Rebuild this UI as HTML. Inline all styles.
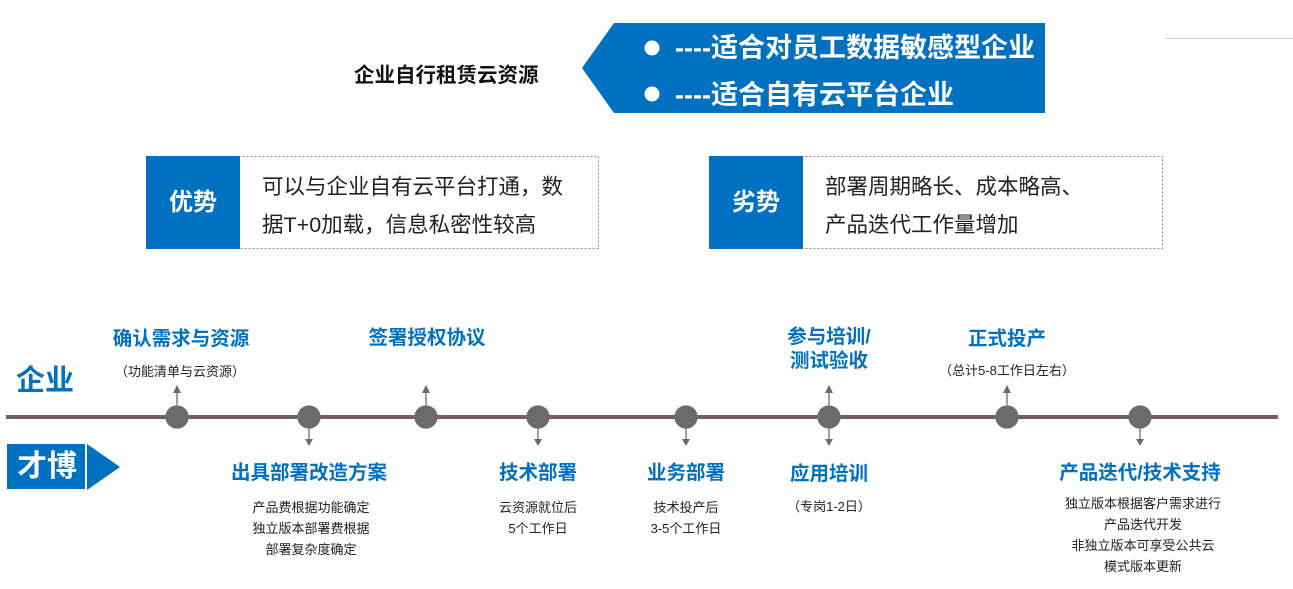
<!DOCTYPE html>
<html><head><meta charset="utf-8"><style>
body{margin:0;width:1293px;height:589px;background:#fff;position:relative;overflow:hidden;font-family:"Liberation Sans","Noto Sans CJK SC",sans-serif}
.a{position:absolute;white-space:nowrap}
.c{position:absolute;width:300px;text-align:center;white-space:nowrap}
.h{color:#0070C0;font-weight:bold;font-size:19.5px;line-height:24px}
.s{color:#222;font-size:13px;line-height:21px}
</style></head><body>
<div class="a" style="left:1165px;top:38px;width:128px;height:1px;background:#d0d0d0"></div>
<div class="a" style="left:354px;top:58px;font-size:20.5px;font-weight:bold;color:#111">企业自行租赁云资源</div>
<svg class="a" style="left:0;top:0" width="1293" height="589">
<polygon points="614,23 1045,23 1045,113 614,113 582,68" fill="#0070C0"/>
<circle cx="652" cy="48" r="7.5" fill="#fff"/>
<circle cx="652" cy="94" r="7.5" fill="#fff"/>
<line x1="6" y1="417" x2="1278" y2="417" stroke="#735f5f" stroke-width="4"/>
<g fill="#6b6b6b" stroke="#6b6b6b" stroke-width="1.3">
<circle cx="177" cy="417" r="11"/><circle cx="309" cy="417" r="11"/><circle cx="426" cy="417" r="11"/><circle cx="538" cy="417" r="11"/><circle cx="686" cy="417" r="11"/><circle cx="829" cy="417" r="11"/><circle cx="1007" cy="417" r="11"/><circle cx="1140" cy="417" r="11"/>
<line x1="177" y1="405" x2="177" y2="392"/><polygon points="173,393 181,393 177,385" stroke="none"/>
<line x1="426" y1="405" x2="426" y2="392"/><polygon points="422,393 430,393 426,385" stroke="none"/>
<line x1="829" y1="405" x2="829" y2="392"/><polygon points="825,393 833,393 829,385" stroke="none"/>
<line x1="1007" y1="405" x2="1007" y2="392"/><polygon points="1003,393 1011,393 1007,385" stroke="none"/>
<line x1="309" y1="428" x2="309" y2="440"/><polygon points="305,439 313,439 309,446" stroke="none"/>
<line x1="538" y1="428" x2="538" y2="440"/><polygon points="534,439 542,439 538,446" stroke="none"/>
<line x1="686" y1="428" x2="686" y2="440"/><polygon points="682,439 690,439 686,446" stroke="none"/>
<line x1="829" y1="428" x2="829" y2="440"/><polygon points="825,439 833,439 829,446" stroke="none"/>
<line x1="1140" y1="428" x2="1140" y2="440"/><polygon points="1136,439 1144,439 1140,446" stroke="none"/>
</g>
<rect x="7" y="444" width="78" height="45" fill="#0070C0"/>
<polygon points="87,444 120,467 87,490" fill="#0070C0"/>
<rect x="146.5" y="156.5" width="452" height="92" fill="none" stroke="#888" stroke-dasharray="2,2"/>
<rect x="146" y="156" width="94" height="93" fill="#0070C0"/>
<rect x="709.5" y="156.5" width="453" height="92" fill="none" stroke="#888" stroke-dasharray="2,2"/>
<rect x="709" y="156" width="94" height="93" fill="#0070C0"/>
</svg>
<div class="a" style="left:675px;top:32px;color:#fff;font-weight:bold;font-size:27px;line-height:32px">----适合对员工数据敏感型企业</div>
<div class="a" style="left:675px;top:79px;color:#fff;font-weight:bold;font-size:27px;line-height:32px">----适合自有云平台企业</div>
<div class="a" style="left:146px;top:188px;width:94px;text-align:center;color:#fff;font-weight:bold;font-size:24px;line-height:30px">优势</div>
<div class="a" style="left:709px;top:188px;width:94px;text-align:center;color:#fff;font-weight:bold;font-size:24px;line-height:30px">劣势</div>
<div class="a" style="left:262px;top:168px;font-size:21.5px;line-height:38px;color:#222">可以与企业自有云平台打通，数<br>据T+0加载，信息私密性较高</div>
<div class="a" style="left:825px;top:168px;font-size:21.5px;line-height:38px;color:#222">部署周期略长、成本略高、<br>产品迭代工作量增加</div>
<div class="a" style="left:16px;top:363px;color:#0070C0;font-weight:bold;font-size:29px;line-height:36px">企业</div>
<div class="a" style="left:17px;top:449px;color:#fff;font-weight:bold;font-size:30px;line-height:36px">才博</div>
<div class="c h" style="left:31px;top:327px">确认需求与资源</div>
<div class="c s" style="left:30px;top:361px">（功能清单与云资源）</div>
<div class="c h" style="left:277px;top:326px">签署授权协议</div>
<div class="c h" style="left:679px;top:325px">参与培训/<br>测试验收</div>
<div class="c h" style="left:857px;top:327px">正式投产</div>
<div class="c s" style="left:857px;top:360px">（总计5-8工作日左右）</div>
<div class="c h" style="left:159px;top:461px">出具部署改造方案</div>
<div class="c s" style="left:161px;top:497px">产品费根据功能确定<br>独立版本部署费根据<br>部署复杂度确定</div>
<div class="c h" style="left:388px;top:461px">技术部署</div>
<div class="c s" style="left:388px;top:497px">云资源就位后<br>5个工作日</div>
<div class="c h" style="left:536px;top:461px">业务部署</div>
<div class="c s" style="left:536px;top:497px">技术投产后<br>3-5个工作日</div>
<div class="c h" style="left:679px;top:462px">应用培训</div>
<div class="c s" style="left:679px;top:496px">（专岗1-2日）</div>
<div class="c h" style="left:990px;top:461px">产品迭代/技术支持</div>
<div class="c s" style="left:993px;top:493px">独立版本根据客户需求进行<br>产品迭代开发<br>非独立版本可享受公共云<br>模式版本更新</div>
</body></html>
